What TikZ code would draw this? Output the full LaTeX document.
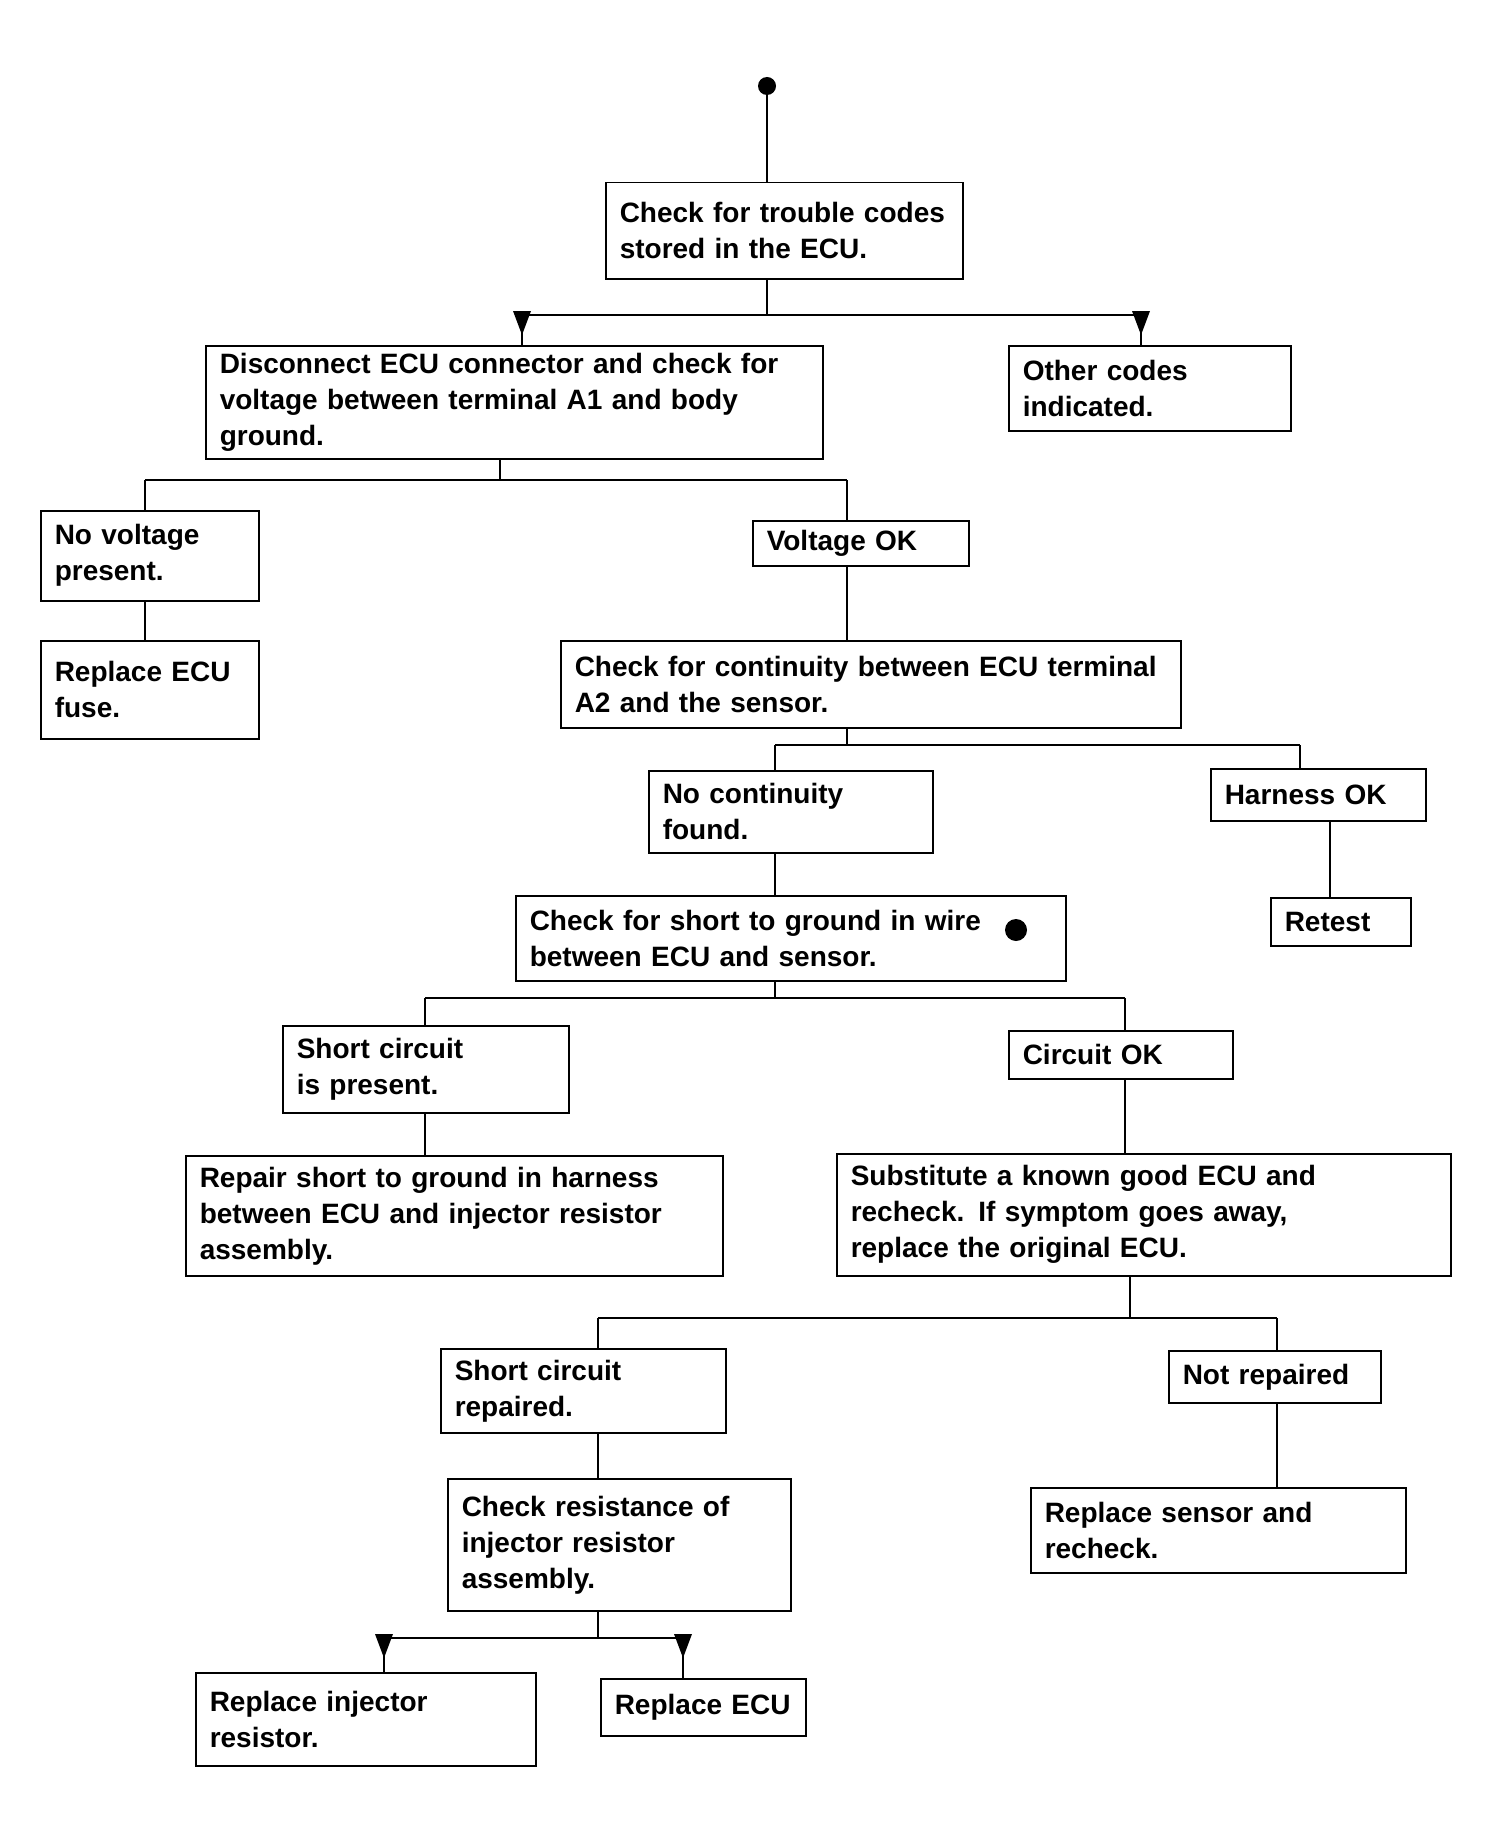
\documentclass[tikz,border=0pt]{standalone}
\usepackage{fontspec}
\setmainfont{Liberation Sans}
\begin{document}
\begin{tikzpicture}[x=0.5pt,y=-0.5pt,
  box/.style={draw, line width=0.75pt, inner xsep=7pt, inner ysep=0pt, align=left,
    anchor=north west, font=\bfseries\fontsize{14}{18}\selectfont},
  conn/.style={line width=0.75pt},
  dot/.style={circle, fill=black, inner sep=0pt, minimum size=9pt},
  dmark/.pic={\fill (-9,-4) -- (9,-4) -- (0,20) -- cycle;}]
\useasboundingbox (0,0) rectangle (1487,1846);
% nodes
\node[dot] (c0) at (767,86) {};
\node[box, text width=164.5pt, minimum height=48pt] (b1) at (605,182) {Check for trouble codes\\stored in the ECU.};
\node[box, text width=294.5pt, minimum height=56.5pt] (b2) at (205,345) {Disconnect ECU connector and check for\\voltage between terminal A1 and body\\ground.};
\node[box, text width=127pt, minimum height=42.5pt] (b3) at (1008,345) {Other codes\\indicated.};
\node[box, text width=95pt, minimum height=45pt] (b4) at (40,510) {No voltage\\present.};
\node[box, text width=95pt, minimum height=49pt] (b5) at (40,640) {Replace ECU\\fuse.};
\node[box, text width=94pt, minimum height=22.5pt] (b6) at (752,520) {Voltage OK};
\node[box, text width=296pt, minimum height=43.5pt] (b7) at (560,640) {Check for continuity between ECU terminal\\A2 and the sensor.};
\node[box, text width=128pt, minimum height=41pt] (b8) at (648,770) {No continuity\\found.};
\node[box, text width=93.5pt, minimum height=26pt] (b9) at (1210,768) {Harness OK};
\node[box, text width=56pt, minimum height=24pt] (b10) at (1270,897) {Retest};
\node[box, text width=261pt, minimum height=42.5pt] (b11) at (515,895) {Check for short to ground in wire\\between ECU and sensor.};
\node[dot, minimum size=11pt] (m11) at (1016,930) {};
\node[box, text width=129pt, minimum height=43.5pt] (b12) at (282,1025) {Short circuit\\is present.};
\node[box, text width=98pt, minimum height=24pt] (b13) at (1008,1030) {Circuit OK};
\node[box, text width=254.5pt, minimum height=60pt] (b14) at (185,1155) {Repair short to ground in harness\\between ECU and injector resistor\\assembly.};
\node[box, text width=293pt, minimum height=61pt] (b15) at (836,1153) {Substitute a known good ECU and\\recheck. If symptom goes away,\\replace the original ECU.};
\node[box, text width=128.5pt, minimum height=42pt] (b16) at (440,1348) {Short circuit\\repaired.};
\node[box, text width=92pt, minimum height=26pt] (b17) at (1168,1350) {Not repaired};
\node[box, text width=157.5pt, minimum height=66pt] (b18) at (447,1478) {Check resistance of\\injector resistor\\assembly.};
\node[box, text width=173.5pt, minimum height=42.5pt] (b19) at (1030,1487) {Replace sensor and\\recheck.};
\node[box, text width=156pt, minimum height=46.5pt] (b20) at (195,1672) {Replace injector\\resistor.};
\node[box, text width=88.5pt, minimum height=28.5pt] (b21) at (600,1678) {Replace ECU};
% junction coordinates
\coordinate (j1) at (767,315); \coordinate (h1l) at (522,315); \coordinate (h1r) at (1141,315);
\coordinate (j2) at (500,480); \coordinate (h2l) at (145,480); \coordinate (h2r) at (847,480);
\coordinate (j3) at (847,745); \coordinate (h3l) at (775,745); \coordinate (h3r) at (1300,745);
\coordinate (v9) at (1330,0);
\coordinate (j4) at (775,998); \coordinate (h4l) at (425,998); \coordinate (h4r) at (1125,998);
\coordinate (j5) at (1130,1318); \coordinate (h5l) at (598,1318); \coordinate (h5r) at (1277,1318);
\coordinate (j6) at (598,1638); \coordinate (h6l) at (384,1638); \coordinate (h6r) at (683,1638);
% connectors
\draw[conn] (c0) -- (c0 |- b1.north);
\draw[conn] (j1 |- b1.south) -- (j1);
\draw[conn] (h1l) -- (h1r);
\draw[conn] (h1l) -- (h1l |- b2.north);
\draw[conn] (h1r) -- (h1r |- b3.north);
\pic at (h1l) {dmark}; \pic at (h1r) {dmark};
\draw[conn] (j2 |- b2.south) -- (j2);
\draw[conn] (h2l) -- (h2r);
\draw[conn] (h2l) -- (h2l |- b4.north);
\draw[conn] (h2r) -- (h2r |- b6.north);
\draw[conn] (h2l |- b4.south) -- (h2l |- b5.north);
\draw[conn] (h2r |- b6.south) -- (h2r |- b7.north);
\draw[conn] (j3 |- b7.south) -- (j3);
\draw[conn] (h3l) -- (h3r);
\draw[conn] (h3l) -- (h3l |- b8.north);
\draw[conn] (h3r) -- (h3r |- b9.north);
\draw[conn] (v9 |- b9.south) -- (v9 |- b10.north);
\draw[conn] (j4 |- b8.south) -- (j4 |- b11.north);
\draw[conn] (j4 |- b11.south) -- (j4);
\draw[conn] (h4l) -- (h4r);
\draw[conn] (h4l) -- (h4l |- b12.north);
\draw[conn] (h4r) -- (h4r |- b13.north);
\draw[conn] (h4l |- b12.south) -- (h4l |- b14.north);
\draw[conn] (h4r |- b13.south) -- (h4r |- b15.north);
\draw[conn] (j5 |- b15.south) -- (j5);
\draw[conn] (h5l) -- (h5r);
\draw[conn] (h5l) -- (h5l |- b16.north);
\draw[conn] (h5r) -- (h5r |- b17.north);
\draw[conn] (h5l |- b16.south) -- (h5l |- b18.north);
\draw[conn] (h5r |- b17.south) -- (h5r |- b19.north);
\draw[conn] (j6 |- b18.south) -- (j6);
\draw[conn] (h6l) -- (h6r);
\draw[conn] (h6l) -- (h6l |- b20.north);
\draw[conn] (h6r) -- (h6r |- b21.north);
\pic at (h6l) {dmark}; \pic at (h6r) {dmark};
\end{tikzpicture}
\end{document}
